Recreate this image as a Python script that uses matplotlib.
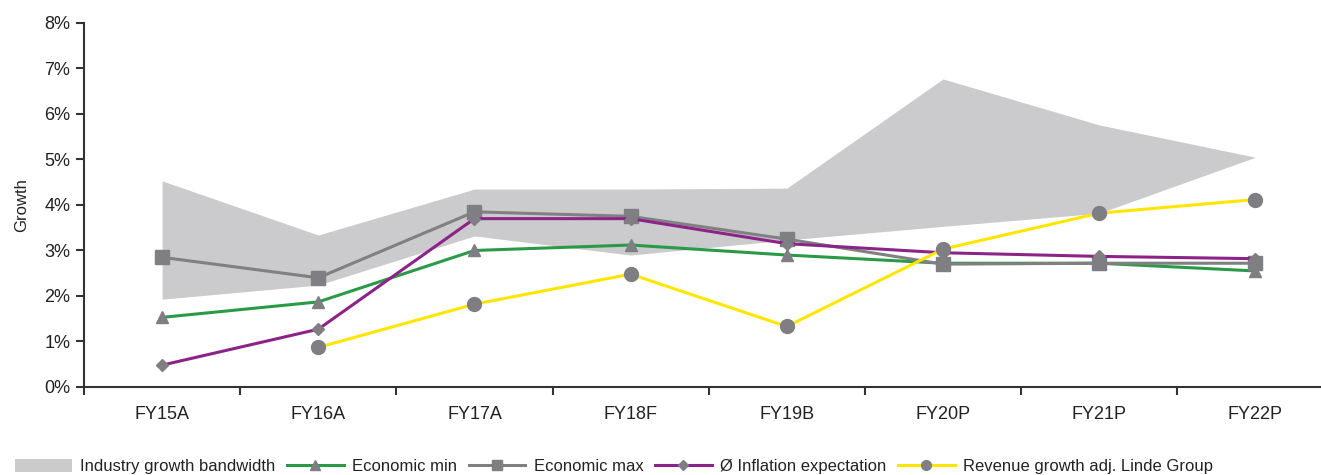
import matplotlib
matplotlib.use("Agg")
import matplotlib.pyplot as plt
import matplotlib.patches as mpatches
from matplotlib.lines import Line2D
from matplotlib.ticker import FixedLocator, PercentFormatter
from matplotlib import font_manager

categories = ["FY15A", "FY16A", "FY17A", "FY18F", "FY19B", "FY20P", "FY21P", "FY22P"]
band_upper = [4.53, 3.34, 4.35, 4.35, 4.37, 6.77, 5.76, 5.05]
band_lower = [1.93, 2.24, 3.32, 2.90, 3.23, 3.53, 3.82, 5.05]
econ_min = [1.53, 1.87, 3.00, 3.12, 2.90, 2.72, 2.72, 2.55]
econ_max = [2.85, 2.40, 3.85, 3.75, 3.25, 2.70, 2.72, 2.72]
inflation = [0.48, 1.27, 3.70, 3.70, 3.15, 2.95, 2.87, 2.82]
revenue = [None, 0.87, 1.82, 2.48, 1.33, 3.03, 3.82, 4.12]

names = [f.name for f in font_manager.fontManager.ttflist]
fam = "Liberation Sans Narrow" if "Liberation Sans Narrow" in names else "Liberation Sans"
plt.rcParams["font.family"] = [fam, "DejaVu Sans"]

C_BAND = "#cbcacc"
C_GREEN = "#2a9a48"
C_GRAY = "#808080"
C_MARK = "#7f7f83"
C_PURPLE = "#8b2389"
C_YELLOW = "#ffe600"
C_AX = "#333333"

fig = plt.figure(figsize=(13.21, 4.75), dpi=100)
ax = fig.add_axes([0.0636, 0.1853, 0.9364, 0.7663])

x = list(range(len(categories)))
ax.fill_between(x, band_lower, band_upper, color=C_BAND, lw=0, zorder=1)

lw = 2.2
ax.plot(x, econ_min, color=C_GREEN, lw=lw, marker="^", ms=9, mfc=C_MARK, mec=C_MARK, zorder=3)
ax.plot(x, econ_max, color=C_GRAY, lw=lw, marker="s", ms=10, mfc=C_MARK, mec=C_MARK, zorder=3)
ax.plot(x, inflation, color=C_PURPLE, lw=lw, marker="D", ms=6.5, mfc=C_MARK, mec=C_MARK, zorder=4)
rx = [i for i, v in zip(x, revenue) if v is not None]
rv = [v for v in revenue if v is not None]
ax.plot(rx, rv, color=C_YELLOW, lw=lw, marker="o", ms=10, mfc=C_MARK, mec=C_MARK, zorder=5)

ax.set_xlim(-0.5, 7.42)
ax.set_ylim(0, 8)
ax.yaxis.set_major_locator(FixedLocator(range(0, 9)))
ax.yaxis.set_major_formatter(PercentFormatter(decimals=0))
ax.set_xticks(x)
ax.set_xticklabels(categories)
ax.xaxis.set_minor_locator(FixedLocator([i - 0.5 for i in range(len(categories) + 1)]))
ax.tick_params(axis="x", which="major", length=0, pad=14, labelsize=13, colors="#222222")
ax.tick_params(axis="x", which="minor", length=6, width=1.5, color=C_AX, direction="out")
ax.tick_params(axis="y", which="major", length=6, width=1.5, color=C_AX, labelsize=13, labelcolor="#222222", pad=4)
for s in ["top", "right"]:
    ax.spines[s].set_visible(False)
for s in ["left", "bottom"]:
    ax.spines[s].set_color(C_AX)
    ax.spines[s].set_linewidth(1.5)
ax.set_ylabel("Growth", fontsize=12, color="#222222", labelpad=11)

handles = [
    mpatches.Patch(color=C_BAND, lw=0),
    Line2D([], [], color=C_GREEN, lw=lw, marker="^", ms=7, mfc=C_MARK, mec=C_MARK),
    Line2D([], [], color=C_GRAY, lw=lw, marker="s", ms=7, mfc=C_MARK, mec=C_MARK),
    Line2D([], [], color=C_PURPLE, lw=lw, marker="D", ms=5, mfc=C_MARK, mec=C_MARK),
    Line2D([], [], color=C_YELLOW, lw=lw, marker="o", ms=7, mfc=C_MARK, mec=C_MARK),
]
labels = ["Industry growth bandwidth", "Economic min", "Economic max",
          "Ø Inflation expectation", "Revenue growth adj. Linde Group"]
fig.legend(handles, labels, loc="lower left", bbox_to_anchor=(0.0, -0.03), ncol=5,
           frameon=False, fontsize=12, handlelength=3.4, handleheight=0.9,
           columnspacing=0.7, handletextpad=0.5, labelcolor="#222222")

fig.savefig("out.png", dpi=100)
